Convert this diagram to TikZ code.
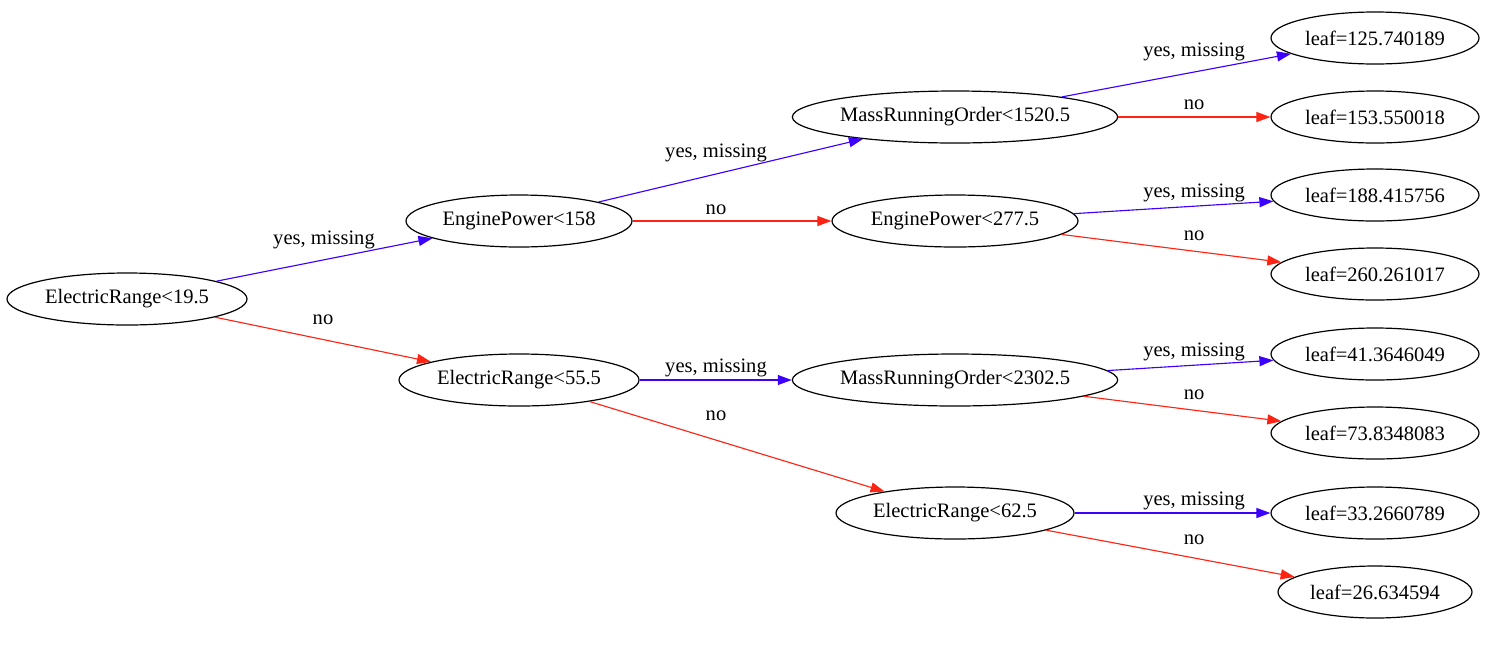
\documentclass[tikz,border=0pt]{standalone}
\usepackage{fontspec}
\setmainfont{Liberation Serif}
\usetikzlibrary{shapes.geometric,arrows.meta}
\definecolor{yescol}{RGB}{60,0,255}
\definecolor{nocol}{RGB}{255,35,20}
\begin{document}
\begin{tikzpicture}[x=0.75pt,y=-0.75pt,
  every node/.style={font=\fontsize{15.4}{18}\selectfont},
  tnode/.style={draw=black,line width=0.9pt,ellipse,inner sep=0pt,minimum height=39pt},
  elab/.style={inner sep=0pt},
  yesedge/.style={draw=yescol,line width=0.85pt,-{Triangle[length=10.5pt,width=7.5pt]}},
  noedge/.style={draw=nocol,line width=0.85pt,-{Triangle[length=10.5pt,width=7.5pt]}}]
\useasboundingbox (0,0) rectangle (1505,651);
% internal nodes
\node[tnode,minimum width=180pt] (r) at (127,299) {ElectricRange<19.5};
\node[tnode,minimum width=169.5pt] (ep158) at (519,221) {EnginePower<158};
\node[tnode,minimum width=180pt] (er55) at (519,380) {ElectricRange<55.5};
\node[tnode,minimum width=243pt] (m1520) at (955,117) {MassRunningOrder<1520.5};
\node[tnode,minimum width=184.5pt] (ep277) at (955,221) {EnginePower<277.5};
\node[tnode,minimum width=243pt] (m2302) at (955,380) {MassRunningOrder<2302.5};
\node[tnode,minimum width=178.5pt] (er62) at (955,513) {ElectricRange<62.5};
% leaves
\node[tnode,minimum width=156pt] (l1) at (1375,38) {leaf=125.740189};
\node[tnode,minimum width=156pt] (l2) at (1375,117) {leaf=153.550018};
\node[tnode,minimum width=156pt] (l3) at (1375,195) {leaf=188.415756};
\node[tnode,minimum width=156pt] (l4) at (1375,274) {leaf=260.261017};
\node[tnode,minimum width=156pt] (l5) at (1375,354) {leaf=41.3646049};
\node[tnode,minimum width=156pt] (l6) at (1375,433) {leaf=73.8348083};
\node[tnode,minimum width=156pt] (l7) at (1375,513) {leaf=33.2660789};
\node[tnode,minimum width=145.5pt] (l8) at (1375,592) {leaf=26.634594};
% edges
\draw[yesedge] (r) -- (ep158);
\draw[noedge] (r) -- (er55);
\draw[yesedge] (ep158) -- (m1520);
\draw[noedge] (ep158) -- (ep277);
\draw[yesedge] (er55) -- (m2302);
\draw[noedge] (er55) -- (er62);
\draw[yesedge] (m1520) -- (l1);
\draw[noedge] (m1520) -- (l2);
\draw[yesedge] (ep277) -- (l3);
\draw[noedge] (ep277) -- (l4);
\draw[yesedge] (m2302) -- (l5);
\draw[noedge] (m2302) -- (l6);
\draw[yesedge] (er62) -- (l7);
\draw[noedge] (er62) -- (l8);
% edge labels
\node[elab] (t1) at (324,240) {yes, missing};
\node[elab] (t2) at (323,320) {no};
\node[elab] (t3) at (716,153) {yes, missing};
\node[elab] (t4) at (716,210) {no};
\node[elab] (t5) at (716,368) {yes, missing};
\node[elab] (t6) at (716,416) {no};
\node[elab] (t7) at (1194,52) {yes, missing};
\node[elab] (t8) at (1194,105) {no};
\node[elab] (t9) at (1194,193) {yes, missing};
\node[elab] (t10) at (1194,236) {no};
\node[elab] (t11) at (1194,352) {yes, missing};
\node[elab] (t12) at (1194,395) {no};
\node[elab] (t13) at (1194,501) {yes, missing};
\node[elab] (t14) at (1194,540) {no};
\end{tikzpicture}
\end{document}
